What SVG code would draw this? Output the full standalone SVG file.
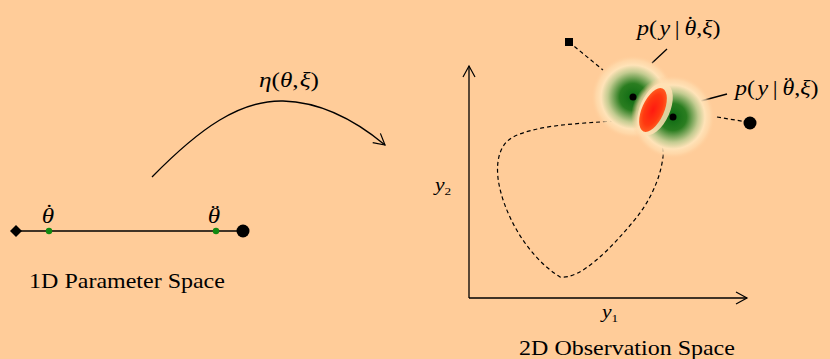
<svg xmlns="http://www.w3.org/2000/svg" width="830" height="359" viewBox="0 0 830 359">
<style>
.t{font-family:"Liberation Serif","Times New Roman",serif;fill:#000}
.i{font-style:italic}
.u{font-style:normal}
.ln{stroke:#000;stroke-width:1.3;fill:none}
.dash{stroke:#000;stroke-width:1.2;fill:none;stroke-dasharray:4 3}
</style>
<defs>
<radialGradient id="blob">
<stop offset="0" stop-color="#0c6a12"/>
<stop offset="0.32" stop-color="#2a7d20"/>
<stop offset="0.6" stop-color="#c2cb90"/>
<stop offset="0.76" stop-color="#ffe3b8"/>
<stop offset="0.88" stop-color="#ffdcae" stop-opacity="0.7"/>
<stop offset="1" stop-color="#ffcc99" stop-opacity="0"/>
</radialGradient>
<radialGradient id="red">
<stop offset="0" stop-color="#ff1a10"/>
<stop offset="0.7" stop-color="#ff3a10"/>
<stop offset="1" stop-color="#ff5a20"/>
</radialGradient>
<marker id="open" markerWidth="14" markerHeight="14" refX="12" refY="7" orient="auto" markerUnits="userSpaceOnUse">
<path d="M1,1 L12,7 L1,13" fill="none" stroke="#000" stroke-width="1.2"/>
</marker>
</defs>
<rect width="830" height="359" fill="#ffcc99"/>

<g id="param-space">
<line class="ln" x1="16" y1="231" x2="243" y2="231"/>
<path d="M16,225 L22,231 L16,237 L10,231 Z" fill="#000"/>
<circle cx="49" cy="231" r="3.2" fill="#118a11"/>
<circle cx="216" cy="231" r="3.2" fill="#118a11"/>
<circle cx="243" cy="231" r="6.5" fill="#000"/>
<text class="t i" transform="translate(48,223) scale(1.2,1)" font-size="21" text-anchor="middle">θ<tspan class="u" x="1" y="-4">˙</tspan></text>
<text class="t i" transform="translate(214,223) scale(1.2,1)" font-size="21" text-anchor="middle">θ<tspan class="u" x="1" y="-4">¨</tspan></text>
<text class="t" transform="translate(127,288) scale(1.2,1)" font-size="20" text-anchor="middle">1D Parameter Space</text>
</g>

<g id="connectors">
<path class="ln" d="M152,177 C200,128 240,100 283,101 C320,102 355,120 385,145" marker-end="url(#open)"/>
<text class="t" transform="translate(289,87) scale(1.2,1)" font-size="21" text-anchor="middle"><tspan class="i">η</tspan>(<tspan class="i">θ</tspan>,<tspan class="i" dx="1">ξ</tspan>)</text>
<line class="dash" x1="569" y1="42" x2="603" y2="70"/>
<line class="dash" x1="717" y1="117" x2="747" y2="122"/>
<line class="ln" x1="667" y1="49" x2="652" y2="63"/>
<line class="ln" x1="727" y1="94" x2="697" y2="102"/>
</g>

<g id="obs-space">
<line class="ln" x1="469" y1="298" x2="469" y2="66" marker-end="url(#open)"/>
<line class="ln" x1="469" y1="298" x2="747" y2="298" marker-end="url(#open)"/>
<text class="t i" transform="translate(435,191) scale(1.2,1)" font-size="18">y<tspan class="u" font-size="11" dy="4">2</tspan></text>
<text class="t i" transform="translate(602,318) scale(1.2,1)" font-size="18">y<tspan class="u" font-size="11" dy="4">1</tspan></text>
<text class="t" transform="translate(627,355) scale(1.2,1)" font-size="20" text-anchor="middle">2D Observation Space</text>
<path class="dash" d="M600,122 C570,124 535,126 513,137 C500,144 496,160 498,178 C502,210 525,255 560,277 C580,280 610,250 637,217 C650,200 660,180 663,157 C666,135 640,118 600,122 Z"/>
</g>

<g id="blob1">
<circle cx="633" cy="97" r="42" fill="url(#blob)"/>
</g>
<g id="blob2">
<circle cx="673" cy="117" r="42" fill="url(#blob)"/>
</g>
<g id="red-ellipse">
<ellipse cx="655" cy="109" rx="15" ry="28" transform="rotate(24 655 109)" fill="#ffe0b4" opacity="0.85"/>
<ellipse cx="653" cy="110" rx="11" ry="23.5" transform="rotate(24 653 110)" fill="url(#red)"/>
</g>
<g id="points">
<circle cx="633" cy="97" r="3.5" fill="#000"/>
<circle cx="673" cy="117" r="3.5" fill="#000"/>
<rect x="565" y="38" width="8" height="8" fill="#000"/>
<circle cx="750" cy="123" r="6.5" fill="#000"/>
</g>
<g id="labels">
<text class="t" transform="translate(637,35) scale(1.2,1)" font-size="20"><tspan class="i">p</tspan>(<tspan class="i" dx="2">y</tspan><tspan dx="4">|</tspan><tspan class="i" dx="4">θ</tspan><tspan dx="-8.3" dy="-4">˙</tspan><tspan dx="1.6" dy="4">,</tspan><tspan class="i">ξ</tspan>)</text>
<text class="t" transform="translate(735,95) scale(1.2,1)" font-size="20"><tspan class="i">p</tspan>(<tspan class="i" dx="2">y</tspan><tspan dx="4">|</tspan><tspan class="i" dx="4">θ</tspan><tspan dx="-8.3" dy="-4">¨</tspan><tspan dx="1.6" dy="4">,</tspan><tspan class="i">ξ</tspan>)</text>
</g>
</svg>
